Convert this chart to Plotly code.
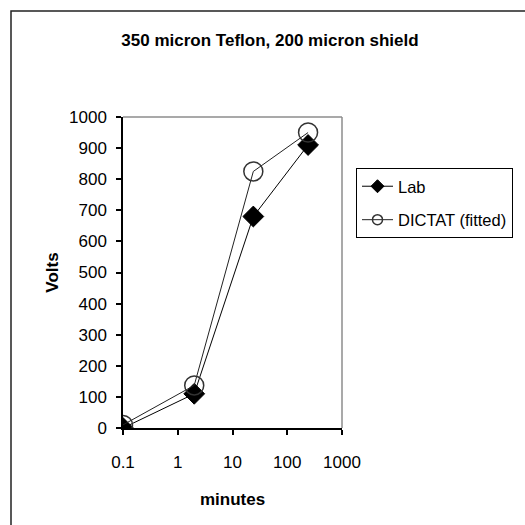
import plotly.graph_objects as go

# Measured breakdown voltage versus time, with the fitted DICTAT curve
minutes = [0.1, 2, 24, 240]
lab_volts = [0, 110, 680, 910]
dictat_volts = [10, 137, 825, 950]

x_tick_vals = [0.1, 1, 10, 100, 1000]
x_tick_text = ["0.1", "1", "10", "100", "1000"]

W, H = 525, 525
L, R, T, B = 123, 183, 117, 97
PW, PH = W - L - R, H - T - B

def px_x(p):
    return (p - L) / PW

def px_y(p):
    return (H - B - p) / PH

FONT = "Liberation Sans, Arial, sans-serif"
FS = 17

lab_line = dict(color="black", width=1)
lab_marker = dict(symbol="diamond", color="black", line=dict(color="black", width=1))
dictat_line = dict(color="#222222", width=1)
dictat_marker = dict(symbol="circle-open", color="#333333",
                     line=dict(color="#333333", width=1.5))

fig = go.Figure()
fig.add_trace(go.Scatter(
    x=minutes, y=lab_volts, name="Lab", mode="lines+markers",
    line=lab_line, marker=dict(size=16, **lab_marker), showlegend=False,
))
fig.add_trace(go.Scatter(
    x=minutes, y=dictat_volts, name="DICTAT (fitted)", mode="lines+markers",
    line=dictat_line, marker=dict(size=19, **dictat_marker), showlegend=False,
))
# legend entries with the smaller key symbols
fig.add_trace(go.Scatter(
    x=[None], y=[None], name="Lab", mode="lines+markers",
    line=lab_line, marker=dict(size=10, **lab_marker), legendgroup="a",
))
fig.add_trace(go.Scatter(
    x=[None], y=[None], name="DICTAT (fitted)", mode="lines+markers",
    line=dictat_line, marker=dict(size=10, **dictat_marker), legendgroup="b",
))

fig.update_layout(
    width=W, height=H,
    margin=dict(l=L, r=R, t=T, b=B, pad=0),
    paper_bgcolor="white", plot_bgcolor="white",
    font=dict(family=FONT, size=FS, color="black"),
    title=dict(text="<b>350 micron Teflon, 200 micron shield</b>",
               x=270 / W, xref="container", xanchor="center",
               y=1 - 40 / H, yref="container", yanchor="middle",
               font=dict(family=FONT, size=FS, color="black")),
    showlegend=True,
    legend=dict(x=px_x(356), y=px_y(168), xanchor="left", yanchor="top",
                bgcolor="white", bordercolor="black", borderwidth=1,
                font=dict(family=FONT, size=16.5, color="black"),
                tracegroupgap=9, itemwidth=31,
                traceorder="grouped"),
    xaxis=dict(type="log", range=[-1, 3], tickvals=x_tick_vals,
               ticktext=x_tick_text, ticks="outside", ticklen=5,
               tickcolor="black", tickwidth=1.5,
               showline=True, linecolor="black", linewidth=1.5,
               showgrid=False, zeroline=False, ticklabelstandoff=13,
               title=dict(text="<b>minutes</b>", standoff=22,
                          font=dict(family=FONT, size=FS))),
    yaxis=dict(range=[0, 1000], dtick=100, ticks="outside", ticklen=5,
               tickcolor="black", tickwidth=1.5,
               showline=True, linecolor="black", linewidth=1.5,
               showgrid=False, zeroline=False, ticklabelstandoff=6,
               title=dict(text="<b>Volts</b>", standoff=6,
                          font=dict(family=FONT, size=FS))),
    shapes=[
        # grey top and right edges of the plot area
        dict(type="line", xref="paper", yref="paper", x0=0, x1=1, y0=1, y1=1,
             line=dict(color="#8c8c8c", width=1.5), layer="below"),
        dict(type="line", xref="paper", yref="paper", x0=1, x1=1, y0=0, y1=1,
             line=dict(color="#8c8c8c", width=1.5), layer="below"),
        # outer chart frame
        dict(type="rect", xref="paper", yref="paper",
             x0=px_x(11), x1=px_x(W + 20), y0=px_y(H + 20), y1=px_y(11),
             line=dict(color="#222222", width=1.5), fillcolor="rgba(0,0,0,0)"),
    ],
)

fig.write_html("out.html")
